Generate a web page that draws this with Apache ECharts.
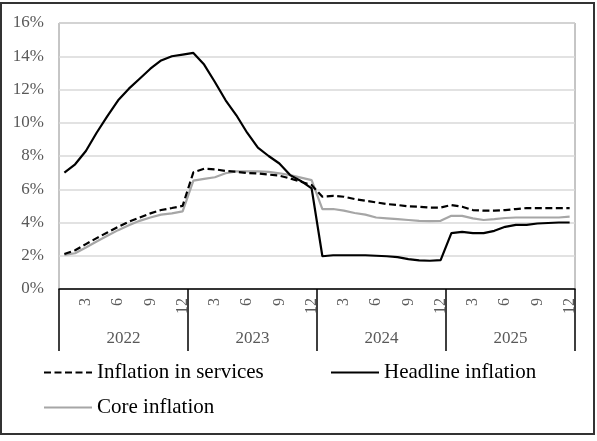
<!doctype html>
<html>
<head>
<meta charset="utf-8">
<title>Inflation</title>
<script src="https://cdn.jsdelivr.net/npm/echarts@6/dist/echarts.min.js"></script>
<style>
html, body { margin: 0; padding: 0; background: #fff; }
#chart { width: 597px; height: 441px; }
</style>
</head>
<body>
<div id="chart"></div>
<script type="text/javascript">
// values in %, one per month, Jan 2022 .. Dec 2025
var years = ['2022', '2023', '2024', '2025'];
var months = [];
for (var y = 0; y < years.length; y++) {
	for (var m = 1; m <= 12; m++) months.push(String(m));
}

var services = [
	2.1, 2.33, 2.7, 3.06, 3.4, 3.74, 4.05, 4.3, 4.55, 4.75, 4.87, 5.0,
	7.02, 7.23, 7.2, 7.1, 7.05, 6.98, 6.95, 6.88, 6.82, 6.65, 6.45, 6.25,
	5.55, 5.6, 5.55, 5.41, 5.31, 5.21, 5.11, 5.05, 4.97, 4.95, 4.9, 4.9,
	5.05, 4.95, 4.75, 4.71, 4.71, 4.75, 4.81, 4.87, 4.87, 4.87, 4.87, 4.87
];
var headline = [
	7.0, 7.5, 8.3, 9.4, 10.4, 11.35, 12.05, 12.65, 13.25, 13.75, 14.0, 14.1,
	14.2, 13.5, 12.45, 11.35, 10.45, 9.4, 8.5, 8.0, 7.55, 6.85, 6.5, 6.05,
	1.97, 2.03, 2.03, 2.03, 2.03, 2.0, 1.97, 1.92, 1.8, 1.72, 1.7, 1.74,
	3.36, 3.44, 3.36, 3.36, 3.5, 3.74, 3.86, 3.86, 3.94, 3.97, 4.0, 4.0
];
var core = [
	2.05, 2.15, 2.5, 2.86, 3.2, 3.54, 3.84, 4.1, 4.3, 4.47, 4.55, 4.67,
	6.52, 6.62, 6.72, 6.96, 7.08, 7.08, 7.08, 7.05, 6.96, 6.85, 6.7, 6.55,
	4.81, 4.81, 4.71, 4.57, 4.47, 4.3, 4.25, 4.2, 4.15, 4.1, 4.08, 4.1,
	4.4, 4.4, 4.25, 4.15, 4.2, 4.27, 4.3, 4.3, 4.3, 4.3, 4.3, 4.35
];

var serif = '"Liberation Serif", "DejaVu Serif", serif';
var legendText = { fontFamily: serif, fontSize: 21, color: '#000' };

function legendItem(name, left, top) {
	return {
		data: [{ name: name, itemStyle: { opacity: 0 } }],
		left: left, top: top, padding: 0,
		itemWidth: 48, itemHeight: 14, itemGap: 0,
		selectedMode: false, textStyle: legendText
	};
}

var mychart = echarts.init(document.getElementById('chart'));
mychart.setOption({
	animation: false,
	textStyle: { fontFamily: serif },
	graphic: [{
		type: 'rect',
		shape: { x: 1, y: 3, width: 593, height: 431 },
		style: { fill: 'none', stroke: '#333', lineWidth: 2 },
		z: -1
	}],
	grid: {
		left: 59, right: 22, top: 23, bottom: 152,
		show: true, borderColor: '#8c8c8c', borderWidth: 1
	},
	legend: [
		legendItem('Inflation in services', 43, 362),
		legendItem('Headline inflation', 330, 362),
		legendItem('Core inflation', 43, 397)
	],
	xAxis: [{
		type: 'category',
		data: months,
		position: 'bottom',
		boundaryGap: true,
		axisLine: { lineStyle: { color: '#000', width: 1.5 } },
		axisTick: { show: false },
		axisLabel: {
			rotate: 90,
			margin: 9,
			interval: function (index) { return index % 3 === 2; },
			fontFamily: serif, fontSize: 16, color: '#595959'
		}
	}, {
		type: 'category',
		data: years,
		position: 'bottom',
		offset: 0,
		boundaryGap: true,
		axisLine: { show: false },
		axisTick: { show: true, length: 62, lineStyle: { color: '#000', width: 1.5 } },
		axisLabel: { margin: 41, fontFamily: serif, fontSize: 17, color: '#595959' }
	}],
	yAxis: {
		type: 'value',
		min: 0, max: 16, interval: 2,
		axisLine: { show: false },
		axisTick: { show: false },
		splitLine: { lineStyle: { color: '#d9d9d9', width: 1.5 } },
		axisLabel: {
			formatter: '{value}%', margin: 15,
			fontFamily: serif, fontSize: 17, color: '#595959'
		}
	},
	series: [{
		name: 'Inflation in services',
		type: 'line',
		data: services,
		symbol: 'none',
		lineStyle: { color: '#000', width: 2.2, type: [7, 3.5] },
		itemStyle: { color: '#000' },
		z: 3
	}, {
		name: 'Headline inflation',
		type: 'line',
		data: headline,
		symbol: 'none',
		lineStyle: { color: '#000', width: 2.2 },
		itemStyle: { color: '#000' },
		z: 4
	}, {
		name: 'Core inflation',
		type: 'line',
		data: core,
		symbol: 'none',
		lineStyle: { color: '#a6a6a6', width: 2.2 },
		itemStyle: { color: '#a6a6a6' },
		z: 2
	}]
});
</script>
</body>
</html>
